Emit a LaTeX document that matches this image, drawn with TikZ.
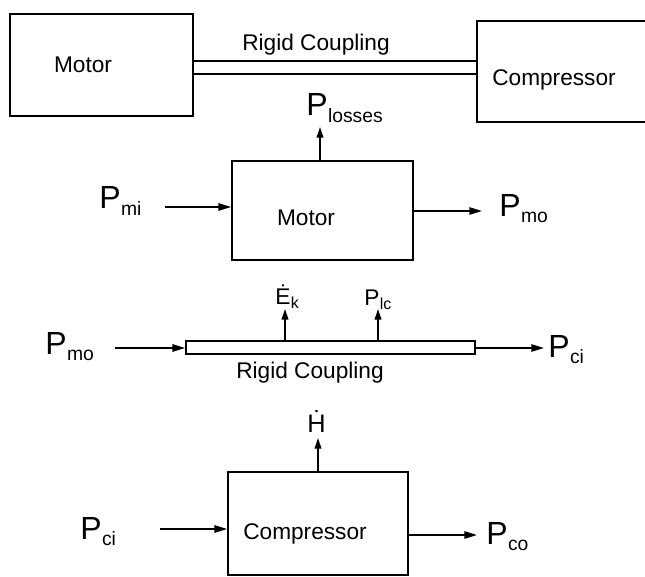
\documentclass[tikz,border=0pt]{standalone}
\usepackage{fontspec}
\setmainfont{Liberation Sans}
\usetikzlibrary{arrows.meta,fit}
\newcommand{\pbig}[1]{{\fontsize{24}{26}\selectfont P}\kern0.3pt\raisebox{-5pt}{\fontsize{14.5}{16}\selectfont #1}}
\newcommand{\psmall}[2]{{\fontsize{17}{19}\selectfont #1}\kern0.3pt\raisebox{-3pt}{\fontsize{12}{14}\selectfont #2}}

\begin{document}
\begin{tikzpicture}[x=0.75pt,y=-0.75pt,
    blk/.style={draw,line width=1.3pt,inner sep=0pt},
    lbl/.style={font=\fontsize{17}{20}\selectfont,inner sep=0pt},
    pw/.style={anchor=base west,inner sep=0pt},
    arr/.style={-{Triangle[length=9.5pt,width=5.5pt]},line width=1.3pt},
    up/.style={-{Triangle[length=8pt,width=5pt]},line width=1.3pt}]
  \useasboundingbox (0,0) rectangle (645,577);
  \clip (0,0) rectangle (645,577);

  \node[blk,fit={(10,14) (193,116)}]  (motorTop) {};
  \node[blk,fit={(477,21) (700,122)}] (compTop)  {};
  \node[blk,fit={(193,61) (477,74)}]  (shaftTop) {};
  \node[lbl] (lblMotorTop) at (83,65)  {Motor};
  \node[lbl] (lblCompTop)  at (554,80) {Compressor};
  \node[lbl] (lblShaftTop) at (316,45) {Rigid Coupling};

  \node[blk,fit={(232,161) (413,260)}] (motorMid) {};
  \node[lbl] (lblMotorMid) at (306,218) {Motor};
  \coordinate (lossTip) at (320,127);
  \coordinate (miStart) at (165,207);
  \coordinate (moEnd)   at (482,211);
  \draw[up]  (motorMid.north -| lossTip) -- (lossTip);
  \draw[arr] (miStart) -- (miStart -| motorMid.west);
  \draw[arr] (motorMid.east |- moEnd) -- (moEnd);
  \node[pw] (pLosses) at (306,116) {\pbig{losses}};
  \node[pw] (pMi)     at (99,209)  {\pbig{mi}};
  \node[pw] (pMoA)    at (499,216) {\pbig{mo}};

  \node[blk,fit={(186,341) (475,354)}] (shaft) {};
  \node[lbl] (lblShaft) at (310,373) {Rigid Coupling};
  \coordinate (ekTip)   at (285,309);
  \coordinate (lcTip)   at (378,309);
  \coordinate (moStart) at (115,348);
  \coordinate (ciEnd)   at (544,348);
  \draw[up]  (shaft.north -| ekTip) -- (ekTip);
  \draw[up]  (shaft.north -| lcTip) -- (lcTip);
  \draw[arr] (moStart) -- (moStart -| shaft.west);
  \draw[arr] (shaft.east |- ciEnd) -- (ciEnd);
  \node[pw] (eK)   at (275,304) {\psmall{\.{E}}{k}};
  \node[pw] (pLc)  at (364,305) {\psmall{P}{lc}};
  \node[pw] (pMoB) at (45,354)  {\pbig{mo}};
  \node[pw] (pCiA) at (548,357) {\pbig{ci}};

  \node[blk,fit={(228,472) (408,575)}] (compMid) {};
  \node[lbl] (lblCompMid) at (305,534) {Compressor};
  \coordinate (hTip)    at (318,438);
  \coordinate (ciStart) at (160,529);
  \coordinate (coEnd)   at (477,535);
  \draw[up]  (compMid.north -| hTip) -- (hTip);
  \draw[arr] (ciStart) -- (ciStart -| compMid.west);
  \draw[arr] (compMid.east |- coEnd) -- (coEnd);
  \node[pw] (hDot) at (307,432) {\fontsize{19}{21}\selectfont\.{H}};
  \node[pw] (pCiB) at (80,539)  {\pbig{ci}};
  \node[pw] (pCo)  at (486,544) {\pbig{co}};
\end{tikzpicture}
\end{document}
